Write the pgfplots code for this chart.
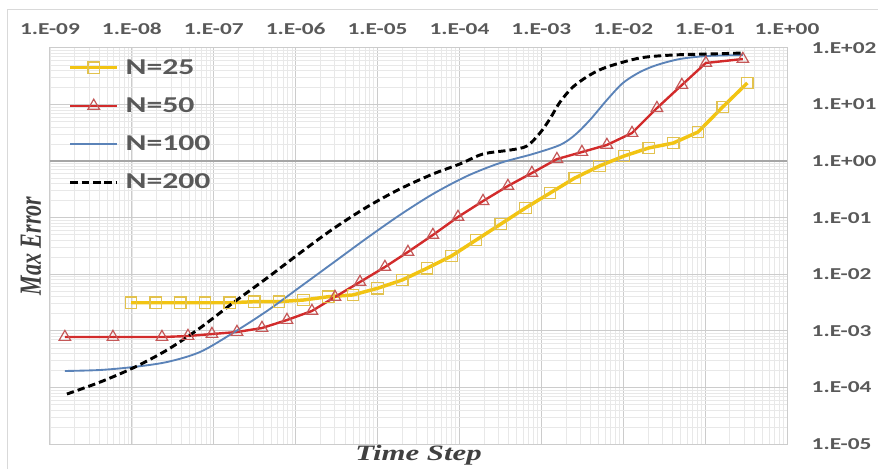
\documentclass[border=0pt]{standalone}
\usepackage{fontspec}
\usepackage{graphicx}
\usepackage{pgfplots}
\pgfplotsset{compat=1.18}
\setmainfont{Carlito}
\newfontfamily\serifbi{Liberation Serif}
\newcommand{\sx}[1]{\scalebox{1.4}[1]{#1}}
\definecolor{tickgrey}{HTML}{595959}
\definecolor{titlegrey}{HTML}{404040}
\definecolor{majgrid}{HTML}{CCCCCC}
\definecolor{mingrid}{HTML}{E8E8E8}
\definecolor{axisgrey}{HTML}{A6A6A6}
\definecolor{bordergrey}{HTML}{D9D9D9}
\definecolor{yelline}{HTML}{F2C412}
\definecolor{yelmark}{HTML}{E2C24E}
\definecolor{redline}{HTML}{D22B2B}
\definecolor{redmark}{HTML}{C45858}
\definecolor{blueline}{HTML}{5B83B8}
\begin{document}
\begin{tikzpicture}
\useasboundingbox (0,0) rectangle (658.5pt,351.75pt);
\draw[color=bordergrey, line width=0.75pt] (5.25pt,0pt) -- (5.25pt,344.25pt) -- (658.5pt,344.25pt);
\begin{axis}[
  at={(37.5pt,18.75pt)}, anchor=south west,
  scale only axis, width=552.75pt, height=297.15pt,
  xmode=log, ymode=log,
  xmin=1e-9, xmax=1, ymin=1e-5, ymax=100,
  xtick={1e-9,1e-8,1e-7,1e-6,1e-5,1e-4,1e-3,1e-2,1e-1,1},
  xticklabels={\sx{1.E-09},\sx{1.E-08},\sx{1.E-07},\sx{1.E-06},\sx{1.E-05},\sx{1.E-04},\sx{1.E-03},\sx{1.E-02},\sx{1.E-01},\sx{1.E+00}},
  ytick={1e-5,1e-4,1e-3,1e-2,1e-1,1,10,100},
  yticklabels={\sx{1.E-05},\sx{1.E-04},\sx{1.E-03},\sx{1.E-02},\sx{1.E-01},\sx{1.E+00},\sx{1.E+01},\sx{1.E+02}},
  xticklabel pos=right, yticklabel pos=right,
  tick label style={font=\fontsize{12.5}{14}\selectfont\bfseries, text=tickgrey},
  xticklabel style={anchor=center, yshift=14.1pt},
  yticklabel style={anchor=west, xshift=15pt},
  major tick length=0pt, minor tick length=0pt,
  grid=both,
  major grid style={draw=majgrid, line width=0.75pt},
  minor grid style={draw=mingrid, line width=0.5pt},
  axis line style={draw=majgrid, line width=0.75pt},
  extra y ticks={1}, extra y tick labels={},
  extra y tick style={grid=major, major grid style={draw=axisgrey, line width=1.3pt}},
  every axis x label/.style={at={(axis description cs:0.5,0)}, anchor=center, yshift=-8.5pt},
  every axis y label/.style={at={(axis description cs:0,0.5)}, anchor=center, xshift=-14.25pt, rotate=90},
  xlabel={\serifbi\fontsize{16.5}{18}\selectfont\bfseries\itshape\color{titlegrey}\sx{Time Step}},
  ylabel={\serifbi\fontsize{16.5}{18}\selectfont\bfseries\itshape\color{titlegrey}\scalebox{1}[1.4]{Max Error}},
  legend style={at={(axis description cs:0.023,0.982)}, anchor=north west, draw=none, fill=none,
    font=\fontsize{17}{20}\selectfont\bfseries, text=tickgrey, row sep=12pt, inner sep=1pt, column sep=3pt},
  legend cell align=left,
  legend image code/.code={\draw[mark repeat=2,mark phase=2,#1] plot coordinates {(0pt,0pt) (17.6pt,0pt) (35.2pt,0pt)};},
]
\addplot[color=yelline, line width=2.6pt, mark=square, mark size=4.3pt,
  mark options={draw=yelmark, fill=none, line width=0.9pt, solid}] coordinates {
(9.766e-9,3.13e-3) (1.953e-8,3.13e-3) (3.906e-8,3.13e-3) (7.813e-8,3.13e-3)
(1.563e-7,3.13e-3) (3.125e-7,3.27e-3) (6.25e-7,3.27e-3) (1.25e-6,3.5e-3)
(2.5e-6,4.0e-3) (5e-6,4.3e-3) (1e-5,5.64e-3) (2e-5,7.9e-3) (4e-5,1.27e-2)
(8e-5,2.10e-2) (1.6e-4,4.02e-2) (3.2e-4,7.7e-2) (6.4e-4,0.148) (1.28e-3,0.272)
(2.56e-3,0.50) (5.12e-3,0.816) (1.024e-2,1.225) (2.048e-2,1.70) (4.096e-2,2.08)
(8.192e-2,3.25) (0.16384,9.0) (0.32768,23.9)};
\addlegendentry{\sx{N=25}}
\addplot[color=redline, line width=1.8pt, mark=triangle, mark size=5pt,
  mark options={draw=redmark, fill=none, line width=0.9pt, solid}] coordinates {
(1.52e-9,7.76e-4) (5.87e-9,7.76e-4) (2.33e-8,7.76e-4) (4.84e-8,8.09e-4)
(9.5e-8,8.77e-4) (1.92e-7,9.52e-4) (3.88e-7,1.12e-3) (7.83e-7,1.55e-3)
(1.58e-6,2.24e-3) (3.02e-6,3.96e-3) (6.1e-6,7.28e-3) (1.23e-5,1.34e-2)
(2.35e-5,2.47e-2) (4.74e-5,4.93e-2) (9.6e-5,0.1026) (1.94e-4,0.196)
(3.91e-4,0.362) (7.67e-4,0.614) (1.55e-3,1.08) (3.13e-3,1.44) (6.32e-3,1.92)
(1.28e-2,3.12) (2.58e-2,8.6) (5.2e-2,22.0) (0.102,53.9) (0.289,63.4)};
\addlegendentry{\sx{N=50}}
\addplot[color=blueline, line width=1.4pt, smooth, tension=0.5] coordinates {
(1.52e-9,1.95e-4) (4.08e-9,2.03e-4) (1.03e-8,2.29e-4) (2.69e-8,2.81e-4)
(6.79e-8,4.22e-4) (1.71e-7,9.14e-4) (4.47e-7,2.24e-3) (1.13e-6,5.94e-3)
(2.85e-6,1.58e-2) (7.43e-6,4.36e-2) (1.87e-5,0.111) (4.74e-5,0.261)
(1.24e-4,0.543) (3.13e-4,0.922) (7.89e-4,1.33) (1.69e-3,1.92) (2.57e-3,2.88)
(3.92e-3,5.30) (6.32e-3,11.97) (9.91e-3,23.9) (1.60e-2,37.3) (2.58e-2,49.7)
(4.92e-2,63.4) (0.105,71.6) (0.289,74.6)};
\addlegendentry{\sx{N=100}}
\addplot[color=black, line width=2.2pt, dash pattern=on 5.5pt off 3pt, smooth, tension=0.5] coordinates {
(1.61e-9,7.64e-5) (4.08e-9,1.24e-4) (1.03e-8,2.20e-4) (2.69e-8,4.58e-4)
(6.79e-8,1.12e-3) (1.71e-7,3.10e-3) (4.47e-7,8.57e-3) (1.13e-6,2.37e-2)
(2.85e-6,6.29e-2) (7.43e-6,0.154) (1.87e-5,0.320) (4.74e-5,0.589)
(1.01e-4,0.885) (1.94e-4,1.33) (4.14e-4,1.56) (6.67e-4,1.84) (9.62e-4,3.12)
(1.27e-3,5.52) (1.69e-3,11.0) (2.43e-3,20.3) (3.92e-3,33.1) (6.32e-3,45.8)
(1.60e-2,66.1) (4.05e-2,74.6) (0.105,77.6) (0.289,80.9)};
\addlegendentry{\sx{N=200}}
\end{axis}
\end{tikzpicture}
\end{document}
